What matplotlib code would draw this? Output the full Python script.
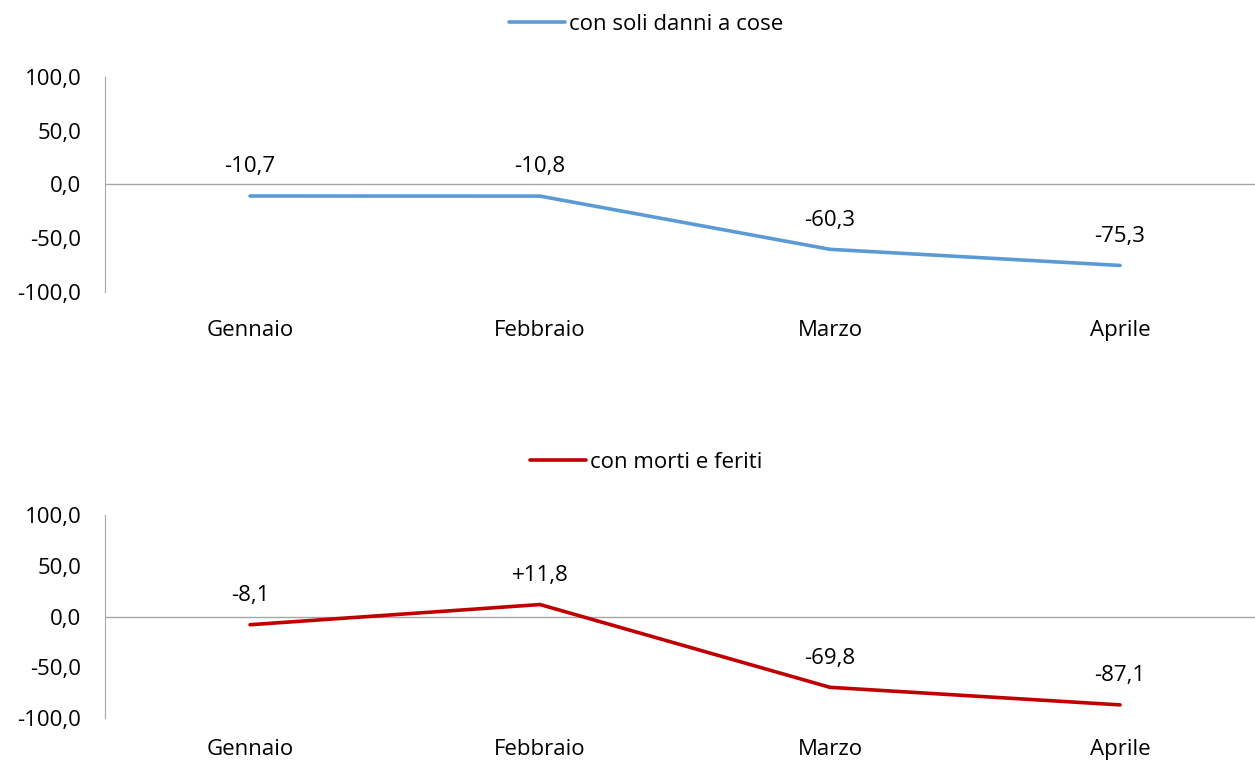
import matplotlib
matplotlib.use('Agg')
from matplotlib import pyplot as plt

months      = ['Gennaio', 'Febbraio', 'Marzo', 'Aprile']
danni_cose  = [-10.7, -10.8, -60.3, -75.3]
morti_feriti = [-8.1, 11.8, -69.8, -87.1]
y_ticks     = [-100, -50, 0, 50, 100]

plt.rcParams['font.family'] = ['Open Sans', 'DejaVu Sans']
plt.rcParams['font.size'] = 16


def fmt(v, sign=False):
    s = '%.1f' % v
    if sign and v > 0:
        s = '+' + s
    return s.replace('.', ',')


def draw(ax, values, color, label, legend_y, sign, xpad):
    x = range(len(values))
    ax.plot(x, values, color=color, linewidth=2.6, label=label, solid_capstyle='round')
    ax.axhline(0, color='#a6a6a6', linewidth=1.0, zorder=0)
    ax.set_xlim(-0.5, len(values) - 0.5)
    ax.set_ylim(-100, 100)
    ax.set_yticks(y_ticks)
    ax.set_yticklabels([fmt(t) for t in y_ticks])
    ax.set_xticks(list(x))
    ax.set_xticklabels(months)
    ax.tick_params(axis='y', length=0, pad=17)
    ax.tick_params(axis='x', length=0, pad=xpad)
    for s in ['top', 'right', 'bottom']:
        ax.spines[s].set_visible(False)
    ax.spines['left'].set_color('#a6a6a6')
    for i, v in enumerate(values):
        ax.annotate(fmt(v, sign), (i, v), xytext=(0, 21), textcoords='offset points',
                    ha='center', va='center')
    fig.legend(handles=ax.get_lines()[:1], loc='center', bbox_to_anchor=(0.515, legend_y),
               frameon=False, handlelength=2.5, handletextpad=0.2)


fig = plt.figure(figsize=(12.55, 7.63), dpi=100)
ax1 = fig.add_axes([0.0837, 0.6173, 0.9243, 0.2818])
ax2 = fig.add_axes([0.0837, 0.059, 0.9243, 0.266])

draw(ax1, danni_cose, '#5b9bd5', 'con soli danni a cose', 1 - 24 / 763, False, 20)
draw(ax2, morti_feriti, '#c00000', 'con morti e feriti', 1 - 462 / 763, True, 15)

fig.savefig('out.png', dpi=100)
